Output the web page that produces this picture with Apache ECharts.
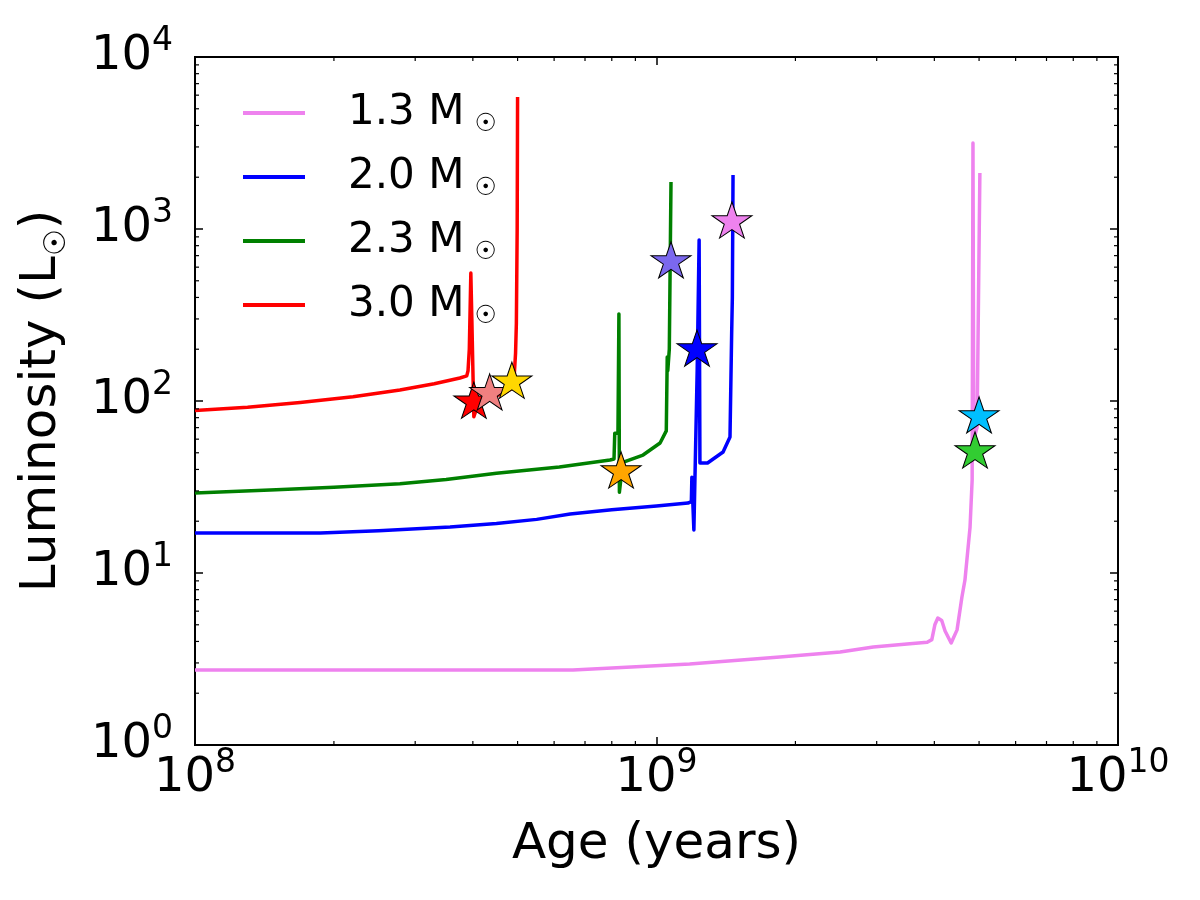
<!DOCTYPE html>
<html>
<head>
<meta charset="utf-8">
<script src="https://cdn.jsdelivr.net/npm/echarts@6/dist/echarts.min.js"></script>
<style>
  html, body { margin: 0; padding: 0; background: #fff; }
  #chart { width: 1200px; height: 900px; }
</style>
</head>
<body>
<div id="chart"></div>
<script>
// evolution tracks (age in years, L in Lsun)
var age13 = [1.0e8, 3.0e8, 6.59e8, 1.18e9, 1.85e9, 2.5e9, 2.95e9, 3.49e9, 3.86e9, 3.95e9, 4.01e9, 4.07e9, 4.15e9, 4.22e9, 4.35e9, 4.48e9, 4.59e9, 4.66e9, 4.78e9, 4.83e9, 4.85e9, 4.87e9, 4.95e9, 5.02e9];
var lum13 = [2.73, 2.73, 2.73, 2.96, 3.25, 3.47, 3.71, 3.87, 3.96, 4.1, 5.0, 5.47, 5.3, 4.6, 3.92, 4.67, 7.25, 9.1, 18.5, 34.7, 3162, 60, 70, 2118];

var age20 = [1.0e8, 1.87e8, 2.5e8, 3.57e8, 4.5e8, 5.5e8, 6.5e8, 8.0e8, 1.0e9, 1.17e9, 1.19e9, 1.193e9, 1.2e9, 1.205e9, 1.225e9, 1.237e9, 1.242e9, 1.29e9, 1.394e9, 1.443e9, 1.455e9, 1.46e9, 1.465e9];
var lum20 = [17.1, 17.1, 17.6, 18.5, 19.4, 20.5, 22, 23.3, 24.5, 25.5, 26, 36, 36, 17.8, 150, 863, 43.6, 43.6, 50.5, 61.8, 248, 400, 2061];

var age23 = [1.0e8, 1.5e8, 2.0e8, 2.78e8, 3.5e8, 4.5e8, 6.16e8, 7.93e8, 8.09e8, 8.12e8, 8.25e8, 8.29e8, 8.31e8, 8.45e8, 9.35e8, 1.018e9, 1.05e9, 1.055e9, 1.058e9, 1.066e9, 1.075e9];
var lum23 = [29.2, 30.5, 31.5, 33, 35, 38, 41.3, 45.4, 46, 65, 65, 321, 29.5, 44, 48.5, 57, 67, 180, 150, 200, 1875];

var age30 = [1.0e8, 1.3e8, 1.69e8, 2.2e8, 2.78e8, 3.3e8, 3.75e8, 3.88e8, 3.905e8, 3.93e8, 3.96e8, 3.98e8, 4.02e8, 4.1e8, 4.4e8, 4.7e8, 4.9e8, 4.95e8, 4.97e8, 4.99e8, 5.0e8];
var lum30 = [88, 92, 98, 106, 116, 126, 136, 140, 150, 200, 555, 300, 81, 95, 105, 112, 120, 190, 283, 1000, 5850];

var trackNames = ['1.3', '2.0', '2.3', '3.0'];
var trackColors = ['#EE82EE', '#0000FF', '#008000', '#FF0000'];

// star markers
var starAge = [4.02e8, 4.35e8, 4.86e8, 8.38e8, 1.075e9, 1.224e9, 1.457e9, 5.0e9, 4.9e9];
var starLum = [101, 113, 132, 39.7, 661, 203, 1128, 83, 51.9];
var starColors = ['#FF0000', '#F08080', '#FFD700', '#FFA500', '#7B68EE', '#0000FF', '#EE82EE', '#00BFFF', '#32CD32'];

// matplotlib style log minor ticks
var xMinor = [], yMinor = [];
[1e8, 1e9].forEach(function (d) { for (var k = 2; k <= 9; k++) xMinor.push(k * d); });
[1, 10, 100, 1000].forEach(function (d) { for (var k = 2; k <= 9; k++) yMinor.push(k * d); });

function zip(a, b) { return a.map(function (v, i) { return [v, b[i]]; }); }

var FONT = 'DejaVu Sans';
var STAR = 'path://M50,0 L61.23,34.55 L97.55,34.55 L68.16,55.9 L79.39,90.45 L50,69.1 L20.61,90.45 L31.84,55.9 L2.45,34.55 L38.77,34.55 Z';

var tickRich = {
    b: { fontSize: 48, lineHeight: 64, color: '#000', fontFamily: FONT },
    p: { fontSize: 33, lineHeight: 22, verticalAlign: 'top', color: '#000', fontFamily: FONT }
};
function powLabel(v) {
    return '{b|10}{p|' + Math.round(Math.log10(v)) + '}';
}

var chart = echarts.init(document.getElementById('chart'));

var lineSeries = [
    [age13, lum13], [age20, lum20], [age23, lum23], [age30, lum30]
].map(function (t, i) {
    return {
        name: trackNames[i],
        type: 'line',
        data: zip(t[0], t[1]),
        showSymbol: false,
        symbol: 'none',
        lineStyle: { color: trackColors[i], width: 3.5, join: 'round' },
        itemStyle: { color: trackColors[i] },
        z: 2
    };
});

// minor ticks on all four sides, placed through the axes' own scales
var minorTicks = {
    type: 'custom',
    data: xMinor.concat(yMinor).map(function (v) { return [v, v]; }),
    encode: { x: 0, y: 1 },
    silent: true,
    clip: false,
    z: 5,
    renderItem: function (params, api) {
        var v = api.value(0);
        var st = { stroke: '#000', lineWidth: 1.2 };
        if (params.dataIndex < xMinor.length) {
            var b = api.coord([v, 1]), t = api.coord([v, 1e4]);
            return { type: 'group', children: [
                { type: 'line', shape: { x1: b[0], y1: b[1], x2: b[0], y2: b[1] - 4 }, style: st },
                { type: 'line', shape: { x1: t[0], y1: t[1], x2: t[0], y2: t[1] + 4 }, style: st }
            ] };
        }
        var l = api.coord([1e8, v]), r = api.coord([1e10, v]);
        return { type: 'group', children: [
            { type: 'line', shape: { x1: l[0], y1: l[1], x2: l[0] + 4, y2: l[1] }, style: st },
            { type: 'line', shape: { x1: r[0], y1: r[1], x2: r[0] - 4, y2: r[1] }, style: st }
        ] };
    }
};

var stars = {
    type: 'scatter',
    data: zip(starAge, starLum).map(function (d, i) {
        return { value: d, itemStyle: { color: starColors[i] } };
    }),
    symbol: STAR,
    symbolSize: [40, 38],
    symbolKeepAspect: true,
    itemStyle: { borderColor: '#000', borderWidth: 1, opacity: 1 },
    z: 10
};

var axisCommon = {
    type: 'log',
    logBase: 10,
    axisLine: { lineStyle: { color: '#000', width: 2 } },
    axisTick: { inside: true, length: 8, lineStyle: { color: '#000', width: 1.5 } },
    splitLine: { show: false },
    minorTick: { show: false }
};

var option = {
    animation: false,
    backgroundColor: '#fff',
    grid: { left: 195, right: 82, top: 57, bottom: 155, show: true, borderColor: '#000', borderWidth: 2, backgroundColor: 'transparent' },
    legend: {
        data: trackNames,
        orient: 'vertical',
        left: 238,
        top: 87,
        icon: 'rect',
        itemWidth: 62,
        itemHeight: 4,
        itemGap: 19,
        formatter: function (n) { return '{a|' + n + ' M}{s|☉}'; },
        textStyle: {
            rich: {
                a: { fontSize: 42, lineHeight: 48, color: '#000', fontFamily: FONT, padding: [0, 0, 0, 38] },
                s: { fontSize: 25, lineHeight: 8, verticalAlign: 'bottom', color: '#000', fontFamily: FONT, padding: [0, 0, 0, 10] }
            }
        }
    },
    xAxis: [
        Object.assign({}, axisCommon, {
            min: 1e8, max: 1e10, position: 'bottom',
            name: 'Age (years)', nameLocation: 'middle', nameGap: 75, nameMoveOverlap: false,
            nameTextStyle: { fontSize: 50, color: '#000', fontFamily: FONT },
            axisLabel: { margin: 2, formatter: powLabel, rich: tickRich }
        }),
        Object.assign({}, axisCommon, {
            min: 1e8, max: 1e10, position: 'top', axisLabel: { show: false }
        })
    ],
    yAxis: [
        Object.assign({}, axisCommon, {
            min: 1, max: 1e4, position: 'left',
            name: '{n|Luminosity (L}{s|☉}{n|)}', nameLocation: 'middle', nameGap: 123, nameMoveOverlap: false,
            nameTextStyle: {
                rich: {
                    n: { fontSize: 50, lineHeight: 60, color: '#000', fontFamily: FONT },
                    s: { fontSize: 30, lineHeight: 18, verticalAlign: 'bottom', color: '#000', fontFamily: FONT }
                }
            },
            axisLabel: { margin: 22, formatter: powLabel, rich: tickRich }
        }),
        Object.assign({}, axisCommon, {
            min: 1, max: 1e4, position: 'right', axisLabel: { show: false }
        })
    ],
    series: lineSeries.concat([minorTicks, stars])
};

chart.setOption(option);
</script>
</body>
</html>
